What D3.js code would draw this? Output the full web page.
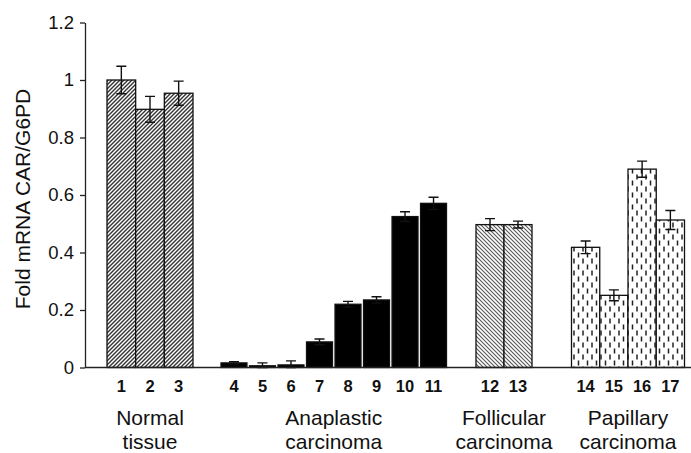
<!DOCTYPE html>
<html>
<head>
<meta charset="utf-8">
<script src="https://cdn.jsdelivr.net/npm/d3@7"></script>
<style>
  body { margin: 0; background: #fff; }
  svg { display: block; }
  text { font-family: "Liberation Sans", Arial, sans-serif; fill: #111; }
</style>
</head>
<body>
<svg id="chart" width="691" height="453"></svg>
<script>
// sample numbers and their tissue group
var samples = ["1","2","3","4","5","6","7","8","9","10","11","12","13","14","15","16","17"];
var sampleGroup = [0,0,0,1,1,1,1,1,1,1,1,2,2,3,3,3,3];
var values = [1.0, 0.898, 0.954, 0.016, 0.006, 0.009, 0.089, 0.22, 0.235, 0.525, 0.571, 0.497, 0.497, 0.418, 0.251, 0.69, 0.513];
var errors = [0.048, 0.045, 0.042, 0.004, 0.01, 0.014, 0.01, 0.01, 0.011, 0.017, 0.021, 0.021, 0.012, 0.022, 0.019, 0.028, 0.033];
var groupNames = [["Normal", "tissue"], ["Anaplastic", "carcinoma"], ["Follicular", "carcinoma"], ["Papillary", "carcinoma"]];
var yTicks = [0, 0.2, 0.4, 0.6, 0.8, 1, 1.2];

var svg = d3.select("#chart");

var y = d3.scaleLinear().domain([0, 1.2]).range([367.5, 22.5]);

// each group gets its own band scale (groups are not evenly spaced)
var groupRange = [[107, 193], [221, 446.5], [476, 532], [571.5, 684.5]];
var groupPad = [0, 0.09, 0, 0];
var xg = groupNames.map(function(g, i) {
  var members = samples.filter(function(s, j) { return sampleGroup[j] == i; });
  return d3.scaleBand().domain(members).range(groupRange[i]).paddingInner(groupPad[i]).paddingOuter(0);
});
function bx(j) { return xg[sampleGroup[j]](samples[j]); }
function bw(j) { return xg[sampleGroup[j]].bandwidth(); }

// fills
var defs = svg.append("defs");
var p1 = defs.append("pattern").attr("id", "hatchR").attr("patternUnits", "userSpaceOnUse")
  .attr("width", 4).attr("height", 4);
p1.append("rect").attr("width", 4).attr("height", 4).attr("fill", "#fff");
p1.append("path").attr("d", "M-1,1L1,-1M0,4L4,0M3,5L5,3").attr("stroke", "#333").attr("stroke-width", 1.4);

var p2 = defs.append("pattern").attr("id", "hatchL").attr("patternUnits", "userSpaceOnUse")
  .attr("width", 4).attr("height", 4);
p2.append("rect").attr("width", 4).attr("height", 4).attr("fill", "#fff");
p2.append("path").attr("d", "M-1,3L1,5M0,0L4,4M3,-1L5,1").attr("stroke", "#555").attr("stroke-width", 1.1);

var p3 = defs.append("pattern").attr("id", "dashes").attr("patternUnits", "userSpaceOnUse")
  .attr("width", 9).attr("height", 12);
p3.append("rect").attr("width", 9).attr("height", 12).attr("fill", "#fff");
p3.append("path").attr("d", "M2.5,0.5V5.5M7,6.5V11.5").attr("stroke", "#222").attr("stroke-width", 1.5);

var fills = ["url(#hatchR)", "#000", "url(#hatchL)", "url(#dashes)"];

// bars
svg.append("g").selectAll("rect")
  .data(values)
  .join("rect")
  .attr("x", function(d, j) { return bx(j); })
  .attr("y", function(d) { return y(d); })
  .attr("width", function(d, j) { return bw(j); })
  .attr("height", function(d) { return y(0) - y(d); })
  .attr("fill", function(d, j) { return fills[sampleGroup[j]]; })
  .attr("stroke", "#111")
  .attr("stroke-width", 1.3);

// error bars
var eb = svg.append("g").attr("stroke", "#111").attr("stroke-width", 1.4).attr("fill", "none");
values.forEach(function(v, j) {
  if (!errors[j]) return;
  var cx = bx(j) + bw(j) / 2;
  var lo = Math.max(0, v - errors[j]), hi = v + errors[j];
  eb.append("path")
    .attr("d", "M" + cx + "," + y(lo) + "V" + y(hi) +
      "M" + (cx - 5) + "," + y(hi) + "H" + (cx + 5) +
      "M" + (cx - 5) + "," + y(lo) + "H" + (cx + 5));
});

// y axis
var yAxis = svg.append("g").attr("transform", "translate(85,0)")
  .call(d3.axisLeft(y).tickValues(yTicks).tickSize(5).tickSizeOuter(0).tickFormat(d3.format("")));
yAxis.select(".domain").attr("stroke", "#222").attr("stroke-width", 1.3);
yAxis.selectAll(".tick line").attr("stroke", "#222").attr("stroke-width", 1.3);
yAxis.selectAll(".tick text").attr("x", -11).attr("font-size", 18.5)
  .attr("font-family", "Liberation Sans, Arial, sans-serif").attr("fill", "#111");

// x baseline
svg.append("line").attr("x1", 85).attr("x2", 691).attr("y1", y(0)).attr("y2", y(0))
  .attr("stroke", "#222").attr("stroke-width", 1.3);

// sample numbers
svg.append("g").selectAll("text")
  .data(samples)
  .join("text")
  .attr("x", function(d, j) { return bx(j) + bw(j) / 2; })
  .attr("y", 391.5)
  .attr("text-anchor", "middle")
  .attr("font-size", 16.5)
  .attr("font-weight", "bold")
  .text(function(d) { return d; });

// group names
groupNames.forEach(function(g, i) {
  var cx = (groupRange[i][0] + groupRange[i][1]) / 2;
  var t = svg.append("text").attr("text-anchor", "middle").attr("font-size", 21);
  t.append("tspan").attr("x", cx).attr("y", 424.5).text(g[0]);
  t.append("tspan").attr("x", cx).attr("y", 448.5).text(g[1]);
});

// y title
svg.append("text")
  .attr("transform", "translate(30,199) rotate(-90)")
  .attr("text-anchor", "middle")
  .attr("font-size", 21)
  .text("Fold mRNA CAR/G6PD");
</script>
</body>
</html>
